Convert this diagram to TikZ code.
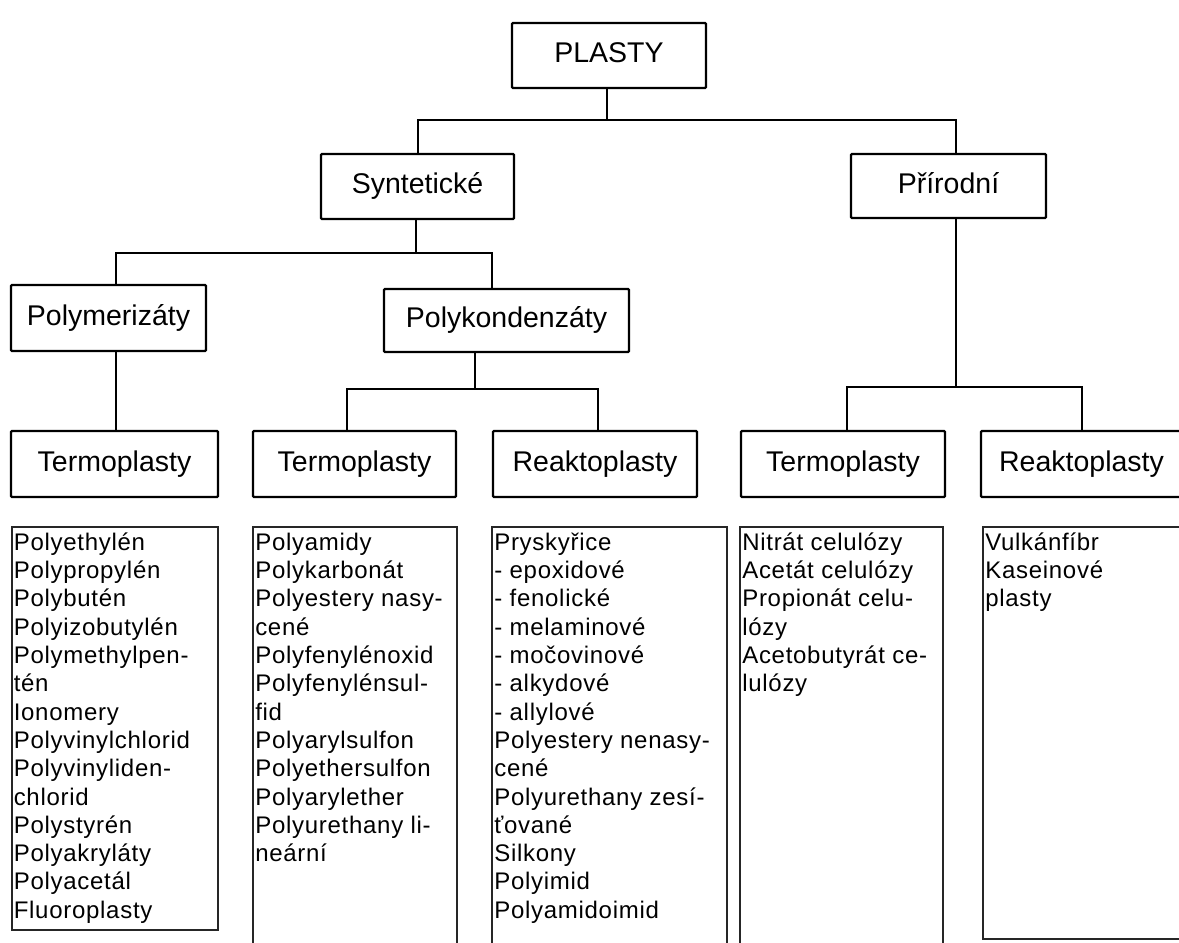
\documentclass[tikz,border=0pt]{standalone}
\usepackage{fontspec}
\setmainfont{Liberation Sans}
\newfontfamily\listfont[LetterSpace=3.0]{Liberation Sans}
\tikzset{
  hbox/.style={draw, line width=2.2pt, rounded corners=1pt, inner sep=0pt,
    font=\fontsize{28.5}{34}\selectfont, text height=20.5pt, text depth=6.5pt},
  lbox/.style={draw, line width=1.8pt, inner sep=0pt, black!85},
  ltext/.style={anchor=north west, inner sep=0pt, align=left,
    font=\listfont\fontsize{24}{28.3}\selectfont},
  conn/.style={line width=1.6pt}
}
\begin{document}
\begin{tikzpicture}[x=1pt,y=-1pt]
\useasboundingbox (0,0) rectangle (1179,943);
\clip (0,0) rectangle (1179,943);
\fill[white] (0,0) rectangle (1179,943);

% header boxes
\node[hbox, minimum width=194pt, minimum height=65pt] (plasty) at (609,55.5) {PLASTY};
\node[hbox, minimum width=193pt, minimum height=65pt] (syn) at (417.5,186.5) {Syntetické};
\node[hbox, minimum width=195pt, minimum height=64pt] (pri) at (948.5,186) {Přírodní};
\node[hbox, minimum width=195pt, minimum height=66pt] (polym) at (108.5,318) {Polymerizáty};
\node[hbox, minimum width=245pt, minimum height=63pt] (polyk) at (506.5,320.5) {Polykondenzáty};
\node[hbox, minimum width=207pt, minimum height=66pt] (t1) at (114.5,464) {Termoplasty};
\node[hbox, minimum width=203pt, minimum height=66pt] (t2) at (354.5,464) {Termoplasty};
\node[hbox, minimum width=204pt, minimum height=66pt] (r1) at (595,464) {Reaktoplasty};
\node[hbox, minimum width=204pt, minimum height=66pt] (t3) at (843,464) {Termoplasty};
\node[hbox, minimum width=201pt, minimum height=66pt] (r2) at (1081.5,464) {Reaktoplasty};

% connectors
\coordinate (a1) at (607,120);
\coordinate (a1l) at (418,120);
\coordinate (a1r) at (956,120);
\draw[conn] (plasty.south -| a1) -- (a1);
\draw[conn] (syn.north -| a1l) |- (a1r) -- (pri.north -| a1r);

\coordinate (b1) at (416,253);
\coordinate (b1l) at (116,253);
\coordinate (b1r) at (492,253);
\draw[conn] (syn.south -| b1) -- (b1);
\draw[conn] (polym.north -| b1l) |- (b1r) -- (polyk.north -| b1r);
\draw[conn] (polym.south -| b1l) -- (t1.north -| b1l);

\coordinate (c1) at (475,389);
\coordinate (c1l) at (347,389);
\coordinate (c1r) at (598,389);
\draw[conn] (polyk.south -| c1) -- (c1);
\draw[conn] (t2.north -| c1l) |- (c1r) -- (r1.north -| c1r);

\coordinate (d1) at (956,387);
\coordinate (d1l) at (847,387);
\coordinate (d1r) at (1082,387);
\draw[conn] (pri.south -| d1) -- (d1);
\draw[conn] (t3.north -| d1l) |- (d1r) -- (r2.north -| d1r);

% list boxes
\node[lbox, minimum width=206pt, minimum height=403pt] (l1) at (115,728.5) {};
\node[lbox, minimum width=204pt, minimum height=433pt] (l2) at (355,743.5) {};
\node[lbox, minimum width=235pt, minimum height=433pt] (l3) at (609.5,743.5) {};
\node[lbox, minimum width=203pt, minimum height=433pt] (l4) at (841.5,743.5) {};
\node[lbox, minimum width=202pt, minimum height=412pt] (l5) at (1084,733) {};

\node[ltext, xshift=2.5pt, yshift=-5pt] (l1t) at (l1.north west) {\rule{0pt}{19pt}Polyethylén\\
Polypropylén\\
Polybutén\\
Polyizobutylén\\
Polymethylpen-\\
tén\\
Ionomery\\
Polyvinylchlorid\\
Polyvinyliden-\\
chlorid\\
Polystyrén\\
Polyakryláty\\
Polyacetál\\
Fluoroplasty};

\node[ltext, xshift=3pt, yshift=-5pt] (l2t) at (l2.north west) {\rule{0pt}{19pt}Polyamidy\\
Polykarbonát\\
Polyestery nasy-\\
cené\\
Polyfenylénoxid\\
Polyfenylénsul-\\
fid\\
Polyarylsulfon\\
Polyethersulfon\\
Polyarylether\\
Polyurethany li-\\
neární};

\node[ltext, xshift=3pt, yshift=-5pt] (l3t) at (l3.north west) {\rule{0pt}{19pt}Pryskyřice\\
- epoxidové\\
- fenolické\\
- melaminové\\
- močovinové\\
- alkydové\\
- allylové\\
Polyestery nenasy-\\
cené\\
Polyurethany zesí-\\
ťované\\
Silkony\\
Polyimid\\
Polyamidoimid};

\node[ltext, xshift=3pt, yshift=-5pt] (l4t) at (l4.north west) {\rule{0pt}{19pt}Nitrát celulózy\\
Acetát celulózy\\
Propionát celu-\\
lózy\\
Acetobutyrát ce-\\
lulózy};

\node[ltext, xshift=3pt, yshift=-5pt] (l5t) at (l5.north west) {\rule{0pt}{19pt}Vulkánfíbr\\
Kaseinové\\
plasty};
\end{tikzpicture}
\end{document}
